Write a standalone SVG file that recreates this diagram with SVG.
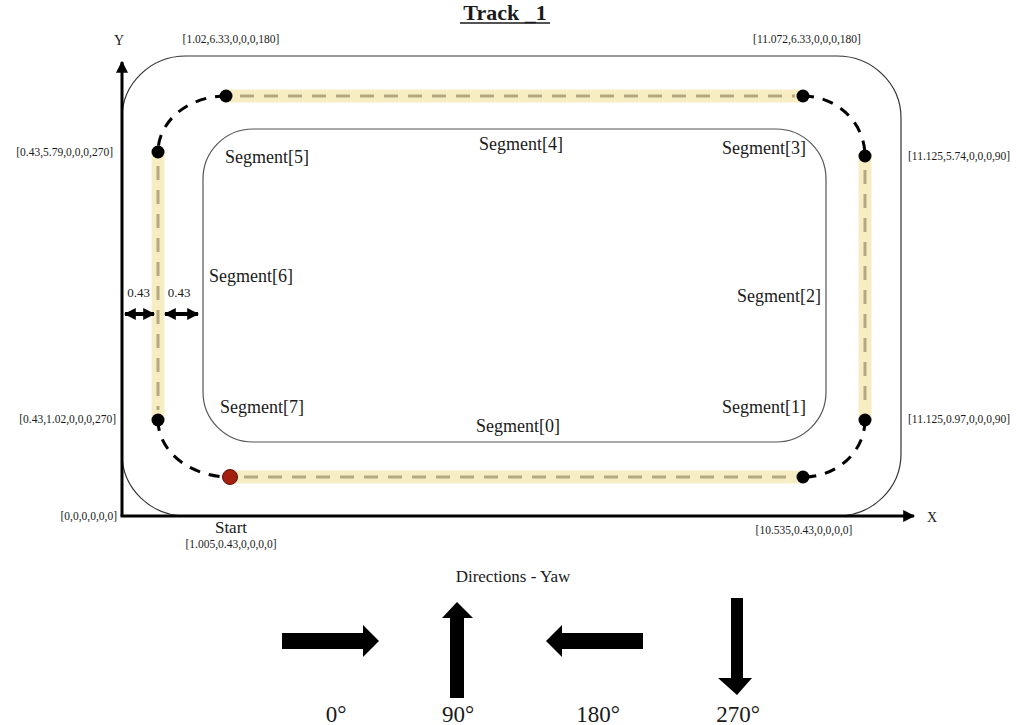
<svg xmlns="http://www.w3.org/2000/svg" width="1016" height="725" viewBox="0 0 1016 725">
<style>
text{font-family:"Liberation Serif","Times New Roman",serif;fill:#1a1a1a}
.coord{font-size:11.5px}
.seg{font-size:18px}
.deg{font-size:23px}
.band{stroke:#f6edc3;stroke-width:13;fill:none}
.dash{stroke:#b4a982;stroke-width:3;stroke-dasharray:14 10;fill:none}
.arc{stroke:#000;stroke-width:3;stroke-dasharray:11 9;fill:none}
.dot{fill:#000}
.axis{stroke:#000;stroke-width:3;fill:none}
.big{fill:#000}
</style>
<defs>
<marker id="ah" viewBox="0 0 10 10" refX="9" refY="5" markerWidth="4" markerHeight="4" orient="auto-start-reverse">
<path d="M0,0 L10,5 L0,10 z" fill="#000"/>
</marker>
<marker id="dh" viewBox="0 0 10 10" refX="9" refY="5" markerWidth="3" markerHeight="3.2" orient="auto-start-reverse">
<path d="M0,0 L10,5 L0,10 z" fill="#000"/>
</marker>
</defs>
<rect width="1016" height="725" fill="#fff"/>
<g id="title">
<text x="505" y="20" text-anchor="middle" style="font-size:22px;font-weight:bold">Track _1</text>
<line x1="460" y1="23" x2="550" y2="23" stroke="#1a1a1a" stroke-width="1.5"/>
</g>
<g id="outer-boundary">
<rect x="122" y="56" width="779" height="460" rx="64" ry="62" fill="none" stroke="#333" stroke-width="1.2"/>
</g>
<g id="inner-boundary">
<rect x="203" y="129" width="623" height="313" rx="50" ry="50" fill="none" stroke="#555" stroke-width="1.2"/>
</g>
<g id="axes">
<line class="axis" x1="122" y1="516" x2="122" y2="62" marker-end="url(#ah)"/>
<line class="axis" x1="120.5" y1="516" x2="914" y2="516" marker-end="url(#ah)"/>
<text x="119" y="45" text-anchor="middle" style="font-size:14px">Y</text>
<text x="932" y="522" text-anchor="middle" style="font-size:14px">X</text>
</g>
<g id="straight-segments">
<line class="band" x1="226" y1="96" x2="803" y2="96"/>
<line class="dash" x1="240" y1="96" x2="795" y2="96"/>
<line class="band" x1="158" y1="152" x2="158" y2="420"/>
<line class="dash" x1="158" y1="166" x2="158" y2="410"/>
<line class="band" x1="865" y1="156" x2="865" y2="420"/>
<line class="dash" x1="865" y1="170" x2="865" y2="410"/>
<line class="band" x1="230" y1="477" x2="803" y2="477"/>
<line class="dash" x1="244" y1="477" x2="795" y2="477"/>
</g>
<g id="connectors">
<path class="arc" d="M226,96 A68,56 0 0 0 158,152"/>
<path class="arc" d="M803,96 A62,60 0 0 1 865,156"/>
<path class="arc" d="M865,420 A62,57 0 0 1 803,477"/>
<path class="arc" d="M158,420 A72,57 0 0 0 230,477"/>
</g>
<g id="waypoints">
<circle class="dot" cx="226" cy="96" r="6.5"/>
<circle class="dot" cx="803" cy="96" r="6.5"/>
<circle class="dot" cx="158" cy="152" r="6.5"/>
<circle class="dot" cx="865" cy="156" r="6.5"/>
<circle class="dot" cx="158" cy="420" r="6.5"/>
<circle class="dot" cx="865" cy="420" r="6.5"/>
<circle class="dot" cx="803" cy="477" r="6.5"/>
<circle cx="230" cy="477" r="7.5" fill="#a3200f" stroke="#5a1008" stroke-width="1"/>
</g>
<g id="coord-labels">
<text class="coord" x="231" y="43" text-anchor="middle">[1.02,6.33,0,0,0,180]</text>
<text class="coord" x="807" y="43" text-anchor="middle">[11.072,6.33,0,0,0,180]</text>
<text class="coord" x="113" y="156" text-anchor="end">[0.43,5.79,0,0,0,270]</text>
<text class="coord" x="908" y="160">[11.125,5.74,0,0,0,90]</text>
<text class="coord" x="116" y="423" text-anchor="end">[0.43,1.02,0,0,0,270]</text>
<text class="coord" x="908" y="423">[11.125,0.97,0,0,0,90]</text>
<text class="coord" x="117" y="520" text-anchor="end">[0,0,0,0,0,0]</text>
<text class="coord" x="231" y="548" text-anchor="middle">[1.005,0.43,0,0,0,0]</text>
<text class="coord" x="804" y="534" text-anchor="middle">[10.535,0.43,0,0,0,0]</text>
<text x="231" y="533" text-anchor="middle" style="font-size:17px">Start</text>
</g>
<g id="segment-labels">
<text class="seg" x="267" y="163" text-anchor="middle">Segment[5]</text>
<text class="seg" x="521" y="150" text-anchor="middle">Segment[4]</text>
<text class="seg" x="764" y="154" text-anchor="middle">Segment[3]</text>
<text class="seg" x="251" y="282" text-anchor="middle">Segment[6]</text>
<text class="seg" x="779" y="302" text-anchor="middle">Segment[2]</text>
<text class="seg" x="262" y="413" text-anchor="middle">Segment[7]</text>
<text class="seg" x="764" y="413" text-anchor="middle">Segment[1]</text>
<text class="seg" x="518" y="432" text-anchor="middle">Segment[0]</text>
</g>
<g id="width-dimension">
<text x="138.5" y="297" text-anchor="middle" style="font-size:13px">0.43</text>
<text x="179" y="297" text-anchor="middle" style="font-size:13px">0.43</text>
<line x1="125" y1="314" x2="154" y2="314" stroke="#000" stroke-width="4" marker-start="url(#dh)" marker-end="url(#dh)"/>
<line x1="165" y1="314" x2="198" y2="314" stroke="#000" stroke-width="4" marker-start="url(#dh)" marker-end="url(#dh)"/>
</g>
<g id="yaw-legend">
<text x="513" y="582" text-anchor="middle" style="font-size:17px">Directions - Yaw</text>
<polygon class="big" points="282,633 363,633 363,625 379,641 363,657 363,649 282,649"/>
<polygon class="big" points="450,698 450,618 442,618 457,602 473,618 464,618 464,698"/>
<polygon class="big" points="643,633 562,633 562,625 546,641 562,657 562,649 643,649"/>
<polygon class="big" points="731,598 743,598 743,678 752,678 737,695 718,678 731,678"/>
<text class="deg" x="336" y="722" text-anchor="middle">0°</text>
<text class="deg" x="458" y="722" text-anchor="middle">90°</text>
<text class="deg" x="598" y="722" text-anchor="middle">180°</text>
<text class="deg" x="738" y="722" text-anchor="middle">270°</text>
</g>
</svg>
